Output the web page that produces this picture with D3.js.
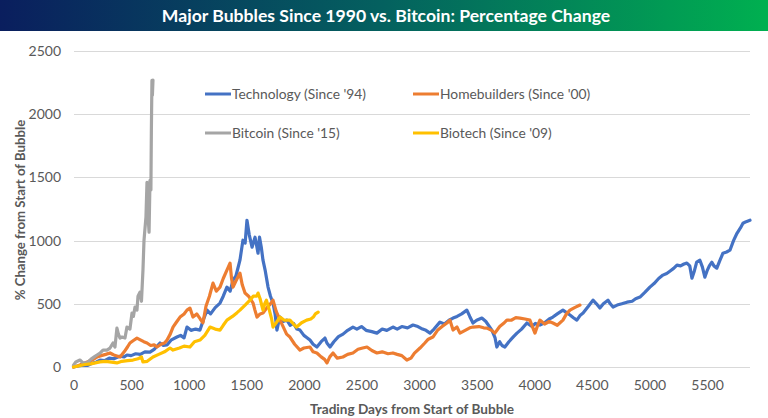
<!DOCTYPE html>
<html>
<head>
<meta charset="utf-8">
<script src="https://cdn.jsdelivr.net/npm/d3@7"></script>
<style>
  html, body { margin: 0; padding: 0; background: #fff; }
  svg { display: block; font-family: Lato, "Liberation Sans", sans-serif; }
</style>
</head>
<body>
<svg id="chart" width="768" height="418"></svg>
<script>
const titleText = "Major Bubbles Since 1990 vs. Bitcoin: Percentage Change";
const xAxisTitle = "Trading Days from Start of Bubble";
const yAxisTitle = "% Change from Start of Bubble";
const xTicks = [0, 500, 1000, 1500, 2000, 2500, 3000, 3500, 4000, 4500, 5000, 5500];
const yTicks = [0, 500, 1000, 1500, 2000, 2500];
const seriesNames = ["Technology (Since '94)", "Homebuilders (Since '00)", "Bitcoin (Since '15)", "Biotech (Since '09)"];
const seriesColors = ["#4472C4", "#ED7D31", "#A5A5A5", "#FFC000"];

const technology = [[0,0],[40,8],[80,15],[120,12],[160,30],[200,40],[230,55],[270,50],[310,70],[350,65],[400,85],[440,80],[464,95],[500,90],[540,105],[580,100],[620,120],[664,118],[700,140],[751,190],[780,170],[812,174],[850,215],[898,237],[930,250],[960,230],[985,316],[1020,290],[1060,300],[1098,292],[1130,380],[1159,450],[1190,420],[1230,470],[1272,506],[1300,560],[1332,632],[1360,600],[1385,687],[1410,720],[1445,845],[1471,1003],[1490,980],[1506,1161],[1525,1050],[1550,948],[1576,1027],[1590,960],[1602,900],[1615,1027],[1630,950],[1645,845],[1665,760],[1689,632],[1710,560],[1732,506],[1750,420],[1766,292],[1780,350],[1793,395],[1820,360],[1853,371],[1880,330],[1910,345],[1940,300],[1966,292],[2000,250],[2030,230],[2053,213],[2080,180],[2113,158],[2150,200],[2183,229],[2200,190],[2227,158],[2260,200],[2300,240],[2340,260],[2380,290],[2426,316],[2460,300],[2500,320],[2540,290],[2590,280],[2634,268],[2680,300],[2720,290],[2773,316],[2810,300],[2850,320],[2900,310],[2947,332],[2990,320],[3030,300],[3060,290],[3095,268],[3130,300],[3181,355],[3220,340],[3260,370],[3295,387],[3330,400],[3370,420],[3415,450],[3440,400],[3468,348],[3500,370],[3545,387],[3580,360],[3632,292],[3660,230],[3675,158],[3700,200],[3720,170],[3745,158],[3780,200],[3820,240],[3850,268],[3890,300],[3936,348],[3980,320],[4010,345],[4049,332],[4090,350],[4130,380],[4162,395],[4200,420],[4249,450],[4280,430],[4310,411],[4340,390],[4370,371],[4400,410],[4424,427],[4470,480],[4510,529],[4540,500],[4570,466],[4600,500],[4640,529],[4660,500],[4684,474],[4720,490],[4760,500],[4805,513],[4850,520],[4880,540],[4918,553],[4960,590],[5004,632],[5040,660],[5080,700],[5117,727],[5150,740],[5180,760],[5210,780],[5239,806],[5270,800],[5300,815],[5325,822],[5350,800],[5369,703],[5390,760],[5410,830],[5438,845],[5460,790],[5481,711],[5500,760],[5520,800],[5542,829],[5560,800],[5585,782],[5610,840],[5638,900],[5670,910],[5699,924],[5730,1000],[5760,1058],[5790,1100],[5812,1137],[5840,1150],[5873,1161]];

const homebuilders = [[0,0],[40,10],[80,25],[120,40],[160,55],[204,79],[240,90],[280,100],[317,111],[350,95],[404,79],[440,120],[470,160],[490,190],[520,210],[551,229],[580,215],[610,200],[638,190],[670,170],[700,175],[725,158],[760,180],[790,190],[812,213],[840,260],[864,316],[890,350],[925,395],[960,420],[985,450],[1011,466],[1037,395],[1070,420],[1100,380],[1124,350],[1150,480],[1180,560],[1211,664],[1240,600],[1272,632],[1300,700],[1332,766],[1359,822],[1372,700],[1385,632],[1410,680],[1445,743],[1465,650],[1489,585],[1520,560],[1559,506],[1575,450],[1593,395],[1620,420],[1645,427],[1680,470],[1710,500],[1732,529],[1760,440],[1793,371],[1830,300],[1850,260],[1879,237],[1920,180],[1966,134],[2000,150],[2053,158],[2080,120],[2113,111],[2150,80],[2180,60],[2200,32],[2225,80],[2253,111],[2290,70],[2339,79],[2380,100],[2426,111],[2470,140],[2510,150],[2548,158],[2590,130],[2634,111],[2680,120],[2730,105],[2773,111],[2810,100],[2850,90],[2894,55],[2930,70],[2960,110],[3008,150],[3050,190],[3080,220],[3120,237],[3160,290],[3200,320],[3242,348],[3268,371],[3295,292],[3329,316],[3355,268],[3400,290],[3440,310],[3468,316],[3520,320],[3560,310],[3589,308],[3630,290],[3658,268],[3700,320],[3740,350],[3762,371],[3800,370],[3840,390],[3875,387],[3920,380],[3962,371],[4006,268],[4030,330],[4049,371],[4090,340],[4130,360],[4162,348],[4200,330],[4249,371],[4280,420],[4310,450],[4350,470],[4397,490]];

const bitcoin = [[0,15],[20,40],[56,55],[80,35],[117,32],[150,60],[180,80],[204,95],[230,110],[256,134],[290,134],[317,150],[343,190],[360,158],[377,308],[390,260],[404,229],[421,237],[447,229],[464,316],[490,300],[508,427],[520,400],[534,474],[551,450],[560,560],[577,592],[590,520],[603,766],[612,1000],[621,1100],[629,1185],[638,1461],[647,1200],[656,1066],[664,1477],[672,1400],[676,1870],[681,2267],[685,2150],[690,2270]];

const biotech = [[0,0],[50,10],[100,20],[150,25],[200,35],[230,40],[280,45],[330,38],[377,32],[420,45],[470,50],[516,55],[560,65],[590,80],[603,40],[640,45],[690,79],[740,100],[790,120],[838,150],[864,134],[920,150],[960,165],[1011,158],[1050,200],[1098,213],[1140,250],[1185,316],[1230,300],[1272,292],[1300,330],[1332,371],[1380,400],[1420,430],[1445,450],[1490,490],[1532,529],[1560,560],[1590,560],[1602,585],[1620,540],[1645,450],[1660,500],[1675,529],[1700,450],[1720,380],[1732,316],[1760,350],[1793,395],[1830,370],[1879,371],[1910,340],[1937,316],[1980,350],[2024,371],[2060,380],[2082,395],[2100,420],[2124,434]];

const allSeries = [technology, homebuilders, bitcoin, biotech];

const svg = d3.select("#chart");
const textColor = "#595959";

// Title bar
const defs = svg.append("defs");
const grad = defs.append("linearGradient").attr("id", "tg").attr("x1", "0%").attr("x2", "100%");
grad.append("stop").attr("offset", "0%").attr("stop-color", "#0a1e5e");
grad.append("stop").attr("offset", "50%").attr("stop-color", "#04615f");
grad.append("stop").attr("offset", "100%").attr("stop-color", "#00b050");
svg.append("rect").attr("x", 0).attr("y", 0).attr("width", 768).attr("height", 31).attr("fill", "url(#tg)");
svg.append("text").attr("x", 386).attr("y", 21.5).attr("text-anchor", "middle")
  .attr("fill", "#fff").attr("font-weight", "bold").attr("font-size", 17.6).text(titleText);

const x = d3.scaleLinear().domain([0, 5873]).range([73.5, 750]);
const y = d3.scaleLinear().domain([0, 2500]).range([367, 51]);

// Gridlines
svg.append("g").selectAll("line").data(yTicks).join("line")
  .attr("x1", 74).attr("x2", 750)
  .attr("y1", d => Math.round(y(d)) + 0.5).attr("y2", d => Math.round(y(d)) + 0.5)
  .attr("stroke", "#d9d9d9").attr("stroke-width", 1);

// Y axis labels
const yAxis = d3.axisLeft(y).tickValues(yTicks).tickSize(0).tickPadding(0).tickFormat(d3.format("d"));
const yg = svg.append("g").attr("transform", "translate(61,0)").call(yAxis);
yg.select(".domain").remove();
yg.selectAll("text").attr("fill", textColor).attr("font-size", 14).attr("font-family", "Lato, sans-serif");

// X axis labels
const xAxis = d3.axisBottom(x).tickValues(xTicks).tickSize(0).tickPadding(0).tickFormat(d3.format("d"));
const xg = svg.append("g").attr("transform", "translate(0,380)").call(xAxis);
xg.select(".domain").remove();
xg.selectAll("text").attr("fill", textColor).attr("font-size", 14).attr("font-family", "Lato, sans-serif");

// Axis titles
svg.append("text").attr("x", 412).attr("y", 414).attr("text-anchor", "middle")
  .attr("fill", textColor).attr("font-weight", "bold").attr("font-size", 13.6).text(xAxisTitle);
svg.append("text").attr("transform", "translate(25,210) rotate(-90)").attr("text-anchor", "middle")
  .attr("fill", textColor).attr("font-weight", "bold").attr("font-size", 13.2).text(yAxisTitle);

// Lines
const line = d3.line().x(d => x(d[0])).y(d => y(d[1]));
svg.append("g").selectAll("path").data(allSeries).join("path")
  .attr("d", line).attr("fill", "none")
  .attr("stroke", (d, i) => seriesColors[i]).attr("stroke-width", 3.2)
  .attr("stroke-linejoin", "round").attr("stroke-linecap", "round");

// Legend
const legendPos = [[205, 94], [413, 94], [205, 133], [413, 133]];
const lg = svg.append("g").selectAll("g").data(seriesNames).join("g")
  .attr("transform", (d, i) => `translate(${legendPos[i][0]},${legendPos[i][1]})`);
lg.append("line").attr("x1", 0).attr("x2", 26).attr("y1", 0).attr("y2", 0)
  .attr("stroke", (d, i) => seriesColors[i]).attr("stroke-width", 3);
lg.append("text").attr("x", 27).attr("y", 5).attr("fill", textColor).attr("font-size", 13.8).text(d => d);
</script>
</body>
</html>
